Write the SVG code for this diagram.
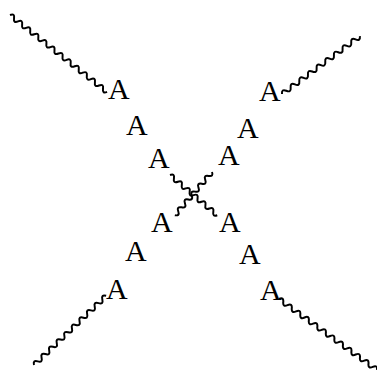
<svg xmlns="http://www.w3.org/2000/svg" width="377" height="372" viewBox="0 0 377 372">
<style>
.lbl{font-family:"Liberation Serif","Times New Roman",serif;font-size:30px;fill:#000}
.w{fill:none;stroke:#000;stroke-width:2;stroke-linejoin:round}
</style>
<rect width="377" height="372" fill="#fff"/>
<g id="connectors">
<path class="w" transform="translate(10,15) rotate(38.4)" d="M0,0 q2.58,-4.6 5.16,0 t5.16,0 t5.16,0 t5.16,0 t5.16,0 t5.16,0 t5.16,0 t5.16,0 t5.16,0 t5.16,0 t5.16,0 t5.16,0 t5.16,0 t5.16,0 t5.16,0 t5.16,0 t5.16,0 t5.16,0 t5.16,0 t5.16,0 t5.16,0 t5.16,0 t5.16,0 t5.16,0"/>
<path class="w" transform="translate(282,94) rotate(-36.6)" d="M0,0 q2.7,-4.6 5.39,0 t5.39,0 t5.39,0 t5.39,0 t5.39,0 t5.39,0 t5.39,0 t5.39,0 t5.39,0 t5.39,0 t5.39,0 t5.39,0 t5.39,0 t5.39,0 t5.39,0 t5.39,0 t5.39,0 t5.39,0"/>
<path class="w" transform="translate(34,365) rotate(-43.8)" d="M0,0 q2.63,-4.6 5.26,0 t5.26,0 t5.26,0 t5.26,0 t5.26,0 t5.26,0 t5.26,0 t5.26,0 t5.26,0 t5.26,0 t5.26,0 t5.26,0 t5.26,0 t5.26,0 t5.26,0 t5.26,0 t5.26,0 t5.26,0 t5.26,0"/>
<path class="w" transform="translate(279,299) rotate(35.9)" d="M0,0 q2.63,-4.6 5.26,0 t5.26,0 t5.26,0 t5.26,0 t5.26,0 t5.26,0 t5.26,0 t5.26,0 t5.26,0 t5.26,0 t5.26,0 t5.26,0 t5.26,0 t5.26,0 t5.26,0 t5.26,0 t5.26,0 t5.26,0 t5.26,0 t5.26,0 t5.26,0 t5.26,0 t5.26,0"/>
<path class="w" transform="translate(170,175) rotate(40.4)" d="M0,0 q2.58,-4.6 5.17,0 t5.17,0 t5.17,0 t5.17,0 t5.17,0 t5.17,0 t5.17,0 t5.17,0 t5.17,0 t5.17,0 t5.17,0 t5.17,0"/>
<path class="w" transform="translate(212,172) rotate(130.7)" d="M0,0 q2.59,-4.6 5.18,0 t5.18,0 t5.18,0 t5.18,0 t5.18,0 t5.18,0 t5.18,0 t5.18,0 t5.18,0 t5.18,0 t5.18,0"/>
</g>
<g id="n1"><text class="lbl" x="108" y="99">A</text></g>
<g id="n2"><text class="lbl" x="126" y="135">A</text></g>
<g id="n3"><text class="lbl" x="148" y="168">A</text></g>
<g id="n4"><text class="lbl" x="259" y="101">A</text></g>
<g id="n5"><text class="lbl" x="237" y="138">A</text></g>
<g id="n6"><text class="lbl" x="218" y="165">A</text></g>
<g id="n7"><text class="lbl" x="151" y="232">A</text></g>
<g id="n8"><text class="lbl" x="125" y="261">A</text></g>
<g id="n9"><text class="lbl" x="106" y="299">A</text></g>
<g id="n10"><text class="lbl" x="219" y="232">A</text></g>
<g id="n11"><text class="lbl" x="239" y="264">A</text></g>
<g id="n12"><text class="lbl" x="260" y="300">A</text></g>
</svg>
